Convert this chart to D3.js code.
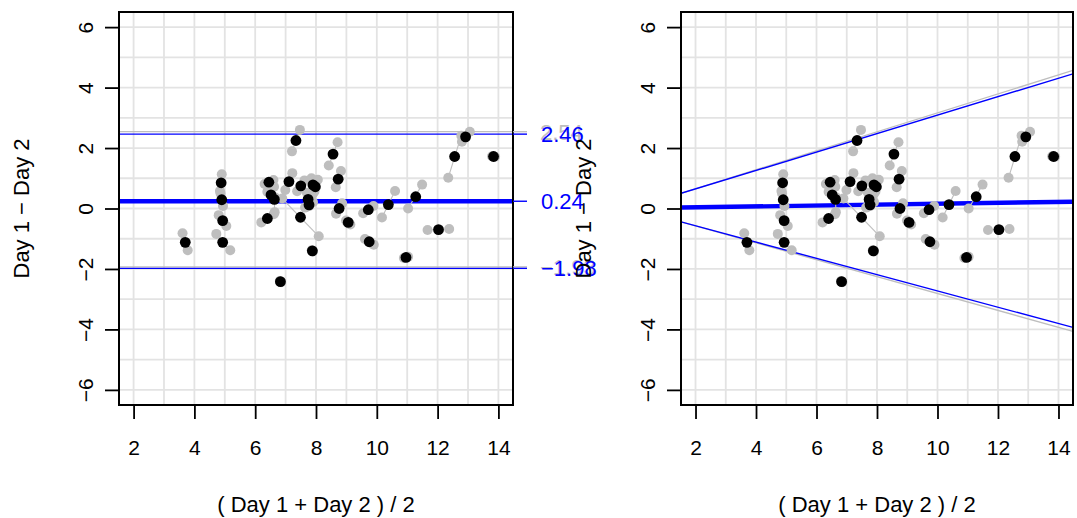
<!DOCTYPE html>
<html>
<head>
<meta charset="utf-8">
<script src="https://cdn.jsdelivr.net/npm/d3@7"></script>
<style>
  body { margin: 0; background: #fff; }
  text { font-family: "Liberation Sans", Arial, Helvetica, sans-serif; }
</style>
</head>
<body>
<svg id="chart" width="1077" height="518"></svg>
<script>
// Subject means: average of the two days and their difference
const avgX  = [3.70, 4.88, 4.90, 4.93, 4.93, 6.45, 6.52, 6.63, 6.40, 6.83, 7.11, 7.34, 7.50, 7.49, 7.74, 7.77,
               7.88, 7.90, 7.98, 8.56, 8.73, 8.76, 9.06, 9.72, 9.75, 10.38, 10.96, 11.28, 12.03, 12.56, 12.92, 13.84];
const diffY = [-1.12, 0.85, 0.29, -0.40, -1.12, 0.87, 0.45, 0.30, -0.33, -2.42, 0.89, 2.25, 0.75, -0.29, 0.30, 0.12,
               -1.40, 0.78, 0.72, 1.80, 0.97, 0.00, -0.46, -0.04, -1.10, 0.13, -1.62, 0.39, -0.70, 1.72, 2.37, 1.72];

// Replicate measurements (first and second replicate of each subject)
const rep1X = [3.61, 4.90, 4.86, 4.80, 4.72, 6.31, 6.40, 6.62, 6.20, 6.81, 7.22, 7.47, 7.62, 6.89, 7.70, 7.64,
               7.86, 7.85, 8.06, 8.42, 8.82, 8.66, 8.99, 9.55, 9.61, 10.17, 10.89, 11.03, 11.67, 12.35, 12.80, 13.79];
const rep1Y = [-0.82, 1.13, 0.50, -0.22, -0.84, 0.81, 0.55, 0.72, -0.46, -2.40, 1.17, 2.60, 0.93, 0.33, 0.52, 0.03,
               -1.38, 1.00, 0.95, 1.42, 1.24, -0.17, -0.40, -0.16, -1.01, -0.30, -1.64, 0.00, -0.71, 1.02, 2.21, 1.73];
const rep2X = [3.78, 4.84, 4.94, 5.05, 5.18, 6.60, 6.66, 6.64, 6.61, 6.85, 6.99, 7.21, 7.38, 8.09, 7.78, 7.90,
               7.90, 7.95, 7.90, 8.71, 8.65, 8.86, 9.13, 9.89, 9.90, 10.60, 11.03, 11.49, 12.38, 12.78, 13.06, 13.89];
const rep2Y = [-1.38, 0.58, 0.08, -0.58, -1.38, 0.94, 0.36, -0.12, -0.19, -2.44, 0.61, 1.89, 0.57, -0.92, 0.08, 0.21,
               -1.42, 0.56, 0.49, 2.19, 0.70, 0.17, -0.53, 0.08, -1.20, 0.58, -1.60, 0.79, -0.68, 2.41, 2.54, 1.71];

const xTicks = [2, 4, 6, 8, 10, 12, 14];
const yTicks = [-6, -4, -2, 0, 2, 4, 6];

// Constant limits of agreement (left panel)
const loaValues    = [2.46, 0.24, -1.98];
const loaLabels    = ["2.46", "0.24", "\u22121.98"];
const loaAltValues = [2.54, -1.93];
const loaAltLabels = ["2.54", "\u22121.93"];

// Limits depending on the average: [intercept, slope] (right panel)
const propMean     = [0.008, 0.015];
const propUpper    = [0.038, 0.305];
const propLower    = [-0.032, -0.2695];
const propUpperAlt = [0.025, 0.3137];
const propLowerAlt = [-0.016, -0.2797];

const svg = d3.select("#chart");
const TOP = 12, BOTTOM = 405;
const BLUE = "#0000ff", GREY = "#bebebe", GRID = "#e3e3e3";

function drawPanel(id, left, right) {
  const x = d3.scaleLinear().domain([1.52, 14.48]).range([left, right]);
  const y = d3.scaleLinear().domain([-6.5, 6.5]).range([BOTTOM, TOP]);
  const g = svg.append("g");

  svg.append("clipPath").attr("id", "clip-" + id)
    .append("rect").attr("x", left).attr("y", TOP)
    .attr("width", right - left).attr("height", BOTTOM - TOP);
  const inner = g.append("g").attr("clip-path", `url(#clip-${id})`);

  // grid at every unit
  inner.selectAll("line.gx").data(d3.range(2, 15)).join("line")
    .attr("x1", d => x(d)).attr("x2", d => x(d))
    .attr("y1", TOP).attr("y2", BOTTOM)
    .attr("stroke", GRID).attr("stroke-width", 1.8);
  inner.selectAll("line.gy").data(d3.range(-6, 7)).join("line")
    .attr("y1", d => y(d)).attr("y2", d => y(d))
    .attr("x1", left).attr("x2", right)
    .attr("stroke", GRID).attr("stroke-width", 1.8);

  return { g, inner, x, y, left, right };
}

function drawPoints(p) {
  const { inner, x, y } = p;
  const idx = d3.range(avgX.length);
  inner.append("g").selectAll("line").data(idx).join("line")
    .attr("x1", i => x(rep1X[i])).attr("y1", i => y(rep1Y[i]))
    .attr("x2", i => x(rep2X[i])).attr("y2", i => y(rep2Y[i]))
    .attr("stroke", GREY).attr("stroke-width", 1.1);
  inner.append("g").selectAll("circle").data(idx).join("circle")
    .attr("cx", i => x(rep1X[i])).attr("cy", i => y(rep1Y[i]))
    .attr("r", 5.0).attr("fill", GREY);
  inner.append("g").selectAll("circle").data(idx).join("circle")
    .attr("cx", i => x(rep2X[i])).attr("cy", i => y(rep2Y[i]))
    .attr("r", 5.0).attr("fill", GREY);
  inner.append("g").selectAll("circle").data(idx).join("circle")
    .attr("cx", i => x(avgX[i])).attr("cy", i => y(diffY[i]))
    .attr("r", 5.4).attr("fill", "#000");
}

function drawFrame(p) {
  const { g, x, y, left, right } = p;
  g.append("rect").attr("x", left).attr("y", TOP)
    .attr("width", right - left).attr("height", BOTTOM - TOP)
    .attr("fill", "none").attr("stroke", "#000").attr("stroke-width", 2);

  const ax = g.append("g").attr("transform", `translate(0,${BOTTOM})`)
    .call(d3.axisBottom(x).tickValues(xTicks).tickSize(14).tickFormat(d3.format("d")));
  ax.select(".domain").remove();
  ax.selectAll("line").attr("stroke", "#000").attr("stroke-width", 1.8);
  ax.selectAll("text").attr("y", 50).attr("dy", 0)
    .attr("font-size", 21).attr("fill", "#000");

  const ay = g.append("g").attr("transform", `translate(${left},0)`)
    .call(d3.axisLeft(y).tickValues(yTicks).tickSize(14)
      .tickFormat(d => d < 0 ? "\u2212" + Math.abs(d) : String(d)));
  ay.select(".domain").remove();
  ay.selectAll("line").attr("stroke", "#000").attr("stroke-width", 1.8);
  ay.selectAll("text").attr("x", 0).attr("dy", 0)
    .attr("text-anchor", "middle")
    .attr("transform", "translate(-26,0) rotate(-90)")
    .attr("font-size", 21).attr("fill", "#000");

  const cx = (left + right) / 2;
  g.append("text").attr("x", cx).attr("y", 512).attr("text-anchor", "middle")
    .attr("font-size", 22).text("( Day 1 + Day 2 ) / 2");
  g.append("text").attr("text-anchor", "middle")
    .attr("transform", `translate(${left - 90},${y(0)}) rotate(-90)`)
    .attr("font-size", 22).text("Day 1 \u2212 Day 2");
}

// ---- left panel: constant bias and limits of agreement
const pL = drawPanel("l", 119, 513);
pL.inner.selectAll("line.alt").data(loaAltValues).join("line")
  .attr("x1", pL.left).attr("x2", pL.right)
  .attr("y1", d => pL.y(d)).attr("y2", d => pL.y(d))
  .attr("stroke", GREY).attr("stroke-width", 1.3);
pL.inner.selectAll("line.loa").data(loaValues).join("line")
  .attr("x1", pL.left).attr("x2", pL.right)
  .attr("y1", d => pL.y(d)).attr("y2", d => pL.y(d))
  .attr("stroke", BLUE).attr("stroke-width", (d, i) => i === 1 ? 4.4 : 1.4);
drawPoints(pL);
drawFrame(pL);

// right-hand axis with the limit values
const rAlt = pL.g.append("g");
loaAltValues.forEach((v, i) => {
  rAlt.append("line").attr("x1", pL.right).attr("x2", pL.right + 14)
    .attr("y1", pL.y(v)).attr("y2", pL.y(v)).attr("stroke", GREY).attr("stroke-width", 1.3);
  rAlt.append("text").attr("x", pL.right + 27).attr("y", pL.y(v)).attr("dy", "0.36em")
    .attr("font-size", 22).attr("fill", GREY).text(loaAltLabels[i]);
});
loaValues.forEach((v, i) => {
  rAlt.append("line").attr("x1", pL.right).attr("x2", pL.right + 14)
    .attr("y1", pL.y(v)).attr("y2", pL.y(v)).attr("stroke", BLUE).attr("stroke-width", 1.4);
  rAlt.append("text").attr("x", pL.right + 28).attr("y", pL.y(v)).attr("dy", "0.36em")
    .attr("font-size", 22).attr("fill", BLUE).text(loaLabels[i]);
});

// ---- right panel: bias and limits changing with the average
const pR = drawPanel("r", 681, 1073);
const lineFrom = c => [[1.52, c[0] + c[1] * 1.52], [14.48, c[0] + c[1] * 14.48]];
const path = d3.line().x(d => pR.x(d[0])).y(d => pR.y(d[1]));
[propUpperAlt, propLowerAlt].forEach(c => {
  pR.inner.append("path").attr("d", path(lineFrom(c)))
    .attr("fill", "none").attr("stroke", GREY).attr("stroke-width", 1.3);
});
[propUpper, propLower].forEach(c => {
  pR.inner.append("path").attr("d", path(lineFrom(c)))
    .attr("fill", "none").attr("stroke", BLUE).attr("stroke-width", 1.4);
});
pR.inner.append("path").attr("d", path(lineFrom(propMean)))
  .attr("fill", "none").attr("stroke", BLUE).attr("stroke-width", 4.4);
drawPoints(pR);
drawFrame(pR);
</script>
</body>
</html>
